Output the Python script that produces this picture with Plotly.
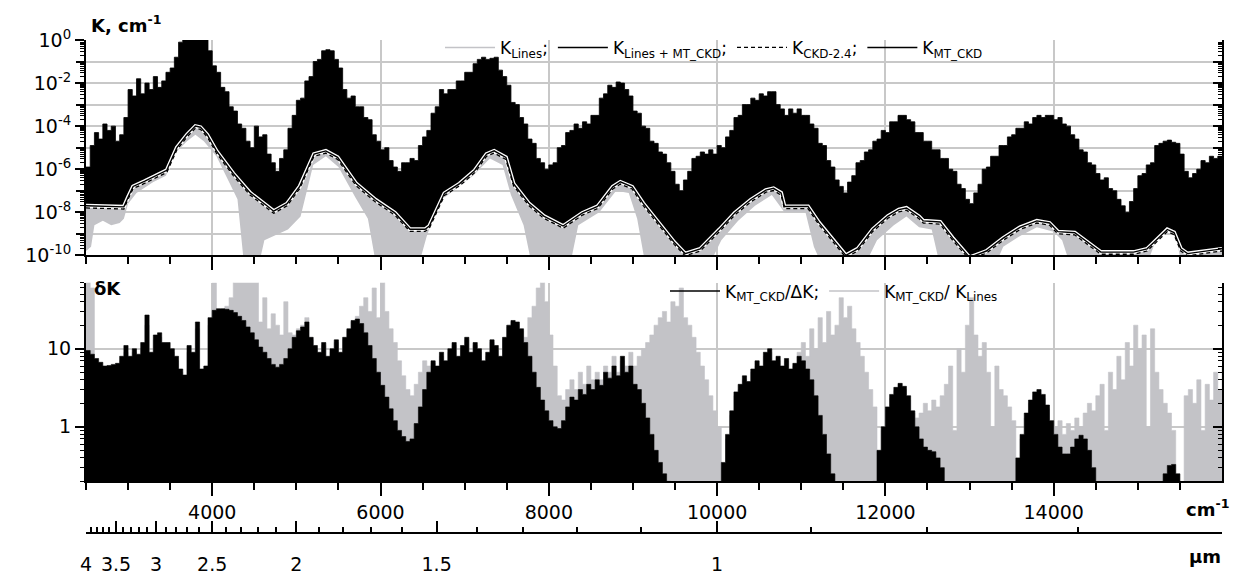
import plotly.graph_objects as go

# ---------------- data ----------------
# sampling grid of the envelopes (cm-1)
NU_START, NU_STEP = 2500, 50

# upper envelope of K_Lines+MT_CKD, log10(K / cm-1), 2500..16000 cm-1 every 50 cm-1
log_k_top = [
    -5.9, -4.9, -4.3, -4.6, -3.9, -4.2, -4.0, -4.7, -4.4, -3.6, -2.3, -2.6, -1.8, -2.5, -2.0, -2.3, -1.7, -2.2, -1.9, -1.5,
    -1.3, -0.8, -0.1, 0.0, 0.0, 0.0, 0.0, 0.0, 0.0, -0.5, -1.2, -1.5, -2.2, -2.4, -3.1, -3.3, -3.9, -4.1, -4.7, -5.0,
    -4.0, -4.5, -4.4, -5.3, -5.7, -6.1, -5.5, -5.1, -4.1, -3.5, -2.8, -2.7, -1.9, -1.7, -1.0, -0.9, -0.5, -0.45, -0.5, -0.9,
    -1.3, -2.3, -2.7, -2.6, -3.1, -3.1, -3.6, -3.7, -4.4, -4.7, -5.1, -5.0, -5.6, -5.9, -6.1, -5.7, -5.7, -5.5, -5.6, -4.9,
    -4.5, -4.2, -3.4, -3.1, -2.3, -2.5, -2.3, -2.3, -1.9, -1.9, -1.5, -1.5, -1.1, -0.9, -0.8, -0.9, -0.85, -0.8, -1.4, -1.7,
    -2.1, -2.9, -3.0, -3.6, -3.9, -4.6, -4.8, -5.5, -5.7, -6.0, -5.8, -5.7, -5.0, -4.9, -4.3, -4.2, -3.9, -4.1, -3.8, -3.9,
    -3.5, -3.5, -2.7, -2.5, -2.1, -2.2, -1.95, -2.0, -2.3, -2.6, -3.3, -3.4, -4.0, -4.1, -4.7, -4.8, -5.2, -5.3, -5.7, -6.1,
    -6.7, -7.0, -6.5, -6.1, -5.5, -5.4, -5.2, -5.3, -5.1, -5.3, -4.9, -5.0, -4.5, -4.2, -3.6, -3.5, -3.0, -3.0, -2.7, -2.8,
    -2.5, -2.6, -2.4, -2.4, -3.0, -3.2, -3.5, -3.2, -3.4, -3.2, -3.5, -3.5, -3.9, -4.1, -4.8, -4.9, -5.6, -5.9, -6.5, -6.8,
    -7.1, -6.6, -6.3, -5.7, -5.6, -5.2, -5.1, -4.7, -4.6, -4.2, -4.3, -3.8, -3.8, -3.5, -3.5, -3.7, -3.8, -4.3, -4.3, -4.7,
    -4.7, -5.1, -5.1, -5.5, -5.5, -6.0, -6.1, -6.7, -6.9, -7.4, -7.6, -7.1, -6.7, -6.0, -5.9, -5.4, -5.4, -4.9, -4.9, -4.5,
    -4.4, -4.1, -4.1, -3.8, -3.9, -3.6, -3.5, -3.6, -3.5, -3.5, -3.7, -3.6, -3.9, -4.0, -4.4, -4.6, -5.1, -5.2, -5.7, -5.8,
    -6.2, -6.5, -6.4, -6.9, -7.0, -7.4, -7.7, -8.0, -7.5, -6.9, -6.3, -6.2, -5.8, -5.7, -4.9, -4.8, -4.7, -4.65, -4.75, -4.8,
    -5.3, -6.1, -6.4, -6.2, -6.0, -5.6, -5.7, -5.4, -5.5, -5.4, -5.4,
]

# continuum knots (cm-1) and log10(K): MT_CKD and CKD-2.4
nu_cont = [
    2500, 2950, 3000, 3060, 3200, 3340, 3460, 3580, 3700, 3800, 3860, 3940, 4050, 4250, 4450, 4650, 4730, 4890, 5040, 5210,
    5350, 5490, 5710, 5940, 6170, 6350, 6530, 6580, 6760, 6940, 7120, 7260, 7350, 7490, 7580, 7760, 7940, 8170, 8400, 8580,
    8760, 8850, 8990, 9120, 9300, 9490, 9620, 9800, 10030, 10210, 10400, 10580, 10670, 10760, 10800, 11080, 11210, 11400, 11530, 11670,
    11850, 12030, 12160, 12250, 12400, 12450, 12650, 12800, 13000, 13200, 13400, 13600, 13800, 13950, 14050, 14250, 14400, 14560, 14950, 15110,
    15190, 15270, 15350, 15430, 15510, 15590, 15710, 15870, 16000,
]
log_k_mtckd = [
    -7.7, -7.75, -7.3, -6.8, -6.55, -6.3, -6.05, -5.0, -4.4, -4.0, -4.05, -4.4, -5.15, -6.2, -7.1, -7.7, -7.95, -7.6, -6.8, -5.3,
    -5.15, -5.45, -6.67, -7.42, -8.03, -8.79, -8.79, -8.64, -7.12, -6.67, -6.06, -5.3, -5.15, -5.45, -6.67, -7.58, -8.18, -8.64, -8.03, -7.73,
    -6.82, -6.59, -6.82, -7.58, -8.48, -9.39, -9.92, -9.7, -8.79, -8.03, -7.42, -6.97, -6.89, -7.1, -7.73, -7.73, -8.48, -9.39, -10.0, -9.7,
    -8.79, -8.18, -7.88, -7.8, -8.2, -8.4, -8.45, -9.2, -10.1, -9.8, -9.2, -8.7, -8.4, -8.5, -8.9, -8.95, -9.4, -9.85, -9.85, -9.7,
    -9.4, -9.1, -8.8, -8.94, -9.7, -9.92, -9.85, -9.77, -9.7,
]
log_k_ckd24 = [
    -7.8, -7.85, -7.4, -6.9, -6.65, -6.4, -6.15, -5.1, -4.5, -4.1, -4.15, -4.5, -5.25, -6.3, -7.2, -7.8, -8.05, -7.7, -6.9, -5.4,
    -5.25, -5.55, -6.77, -7.52, -8.13, -8.89, -8.89, -8.74, -7.22, -6.77, -6.16, -5.4, -5.25, -5.55, -6.77, -7.68, -8.28, -8.74, -8.13, -7.83,
    -6.92, -6.69, -6.92, -7.68, -8.58, -9.49, -10.02, -9.8, -8.89, -8.13, -7.52, -7.07, -6.99, -7.2, -7.83, -7.83, -8.58, -9.49, -10.1, -9.8,
    -8.89, -8.28, -7.98, -7.9, -8.3, -8.5, -8.55, -9.3, -10.2, -9.9, -9.3, -8.8, -8.5, -8.6, -9.0, -9.05, -9.5, -9.95, -9.95, -9.8,
    -9.5, -9.2, -8.9, -9.04, -9.8, -10.02, -9.95, -9.87, -9.8,
]

# lower envelope of K_Lines: knots (cm-1) and log10(K)
nu_lines_min = [
    2500, 2560, 2600, 2700, 2800, 2900, 2950, 3000, 3100, 3300, 3450, 3550, 3700, 3800, 3900, 4050, 4200, 4300, 4380, 4550,
    4620, 4800, 4900, 5050, 5200, 5350, 5500, 5700, 5850, 5950, 6450, 6550, 6700, 6900, 7100, 7300, 7450, 7550, 7700, 7800,
    8250, 8350, 8600, 8800, 8950, 9050, 9150, 9900, 10050, 10250, 10450, 10650, 10800, 11050, 11150, 11250, 11750, 11900, 12100, 12250,
    12400, 12550, 12650, 13300, 13400, 13600, 13800, 14000, 14100, 14200, 15100, 15200, 15350, 15450, 15520, 16000,
]
log_k_lines_min = [
    -9.8, -9.6, -8.6, -8.4, -8.6, -8.5, -8.3, -7.6, -7.1, -6.6, -6.3, -5.3, -4.7, -4.4, -4.7, -5.4, -6.6, -7.4, -10.5, -10.5,
    -9.3, -9.0, -8.8, -8.2, -5.8, -5.4, -5.9, -7.3, -8.3, -10.5, -10.5, -9.1, -7.5, -6.9, -6.3, -5.5, -5.8, -7.2, -8.6, -10.5,
    -10.5, -8.6, -8.0, -7.0, -7.1, -8.3, -10.5, -10.5, -9.3, -8.4, -7.7, -7.2, -8.0, -8.0, -9.6, -10.5, -10.5, -9.3, -8.6, -8.2,
    -8.7, -8.8, -10.5, -10.5, -9.6, -9.1, -8.7, -8.9, -9.3, -10.5, -10.5, -9.45, -8.85, -9.0, -10.5, -10.5,
]

# lower panel, 2500..16000 cm-1 every 50 cm-1
ratio_mtckd_dk = [
    9.5, 8.5, 7.5, 6.7, 6.0, 6.1, 6.3, 6.5, 8.0, 11, 8.0, 10, 8.5, 12, 27, 9, 15, 16, 12, 12,
    10, 8, 5.5, 4.6, 11, 9, 22, 5.5, 6, 25, 31, 32.5, 32.5, 32, 31, 29, 26, 23, 19, 16,
    13, 10.5, 9, 7.5, 6.3, 5.8, 6.3, 7.5, 10, 14, 17, 19, 22, 14, 11, 9, 12, 8, 10, 13,
    9, 14, 18, 23, 24, 21, 16, 11, 7.5, 5, 3.4, 2.4, 1.7, 1.2, 0.9, 0.75, 0.65, 0.7, 1.1, 1.8,
    3, 5, 7, 6, 9, 7, 10, 12, 8, 11, 14, 9, 12, 10, 7, 9, 13, 11, 8, 14,
    20, 23, 22, 18, 12, 8, 5, 3.2, 2.2, 1.6, 1.2, 1.0, 0.95, 1.2, 1.8, 2.4, 2.2, 3.0, 2.6, 3.5,
    3.0, 4.0, 3.4, 5, 4.2, 6, 4.5, 8, 5, 6, 3.5, 3.0, 2.0, 1.3, 0.8, 0.5, 0.35, 0.25, 0.2, 0.1,
    0.1, 0.1, 0.1, 0.1, 0.1, 0.1, 0.1, 0.1, 0.1, 0.1, 0.15, 0.35, 0.8, 1.6, 2.8, 3.5, 4.5, 3.8, 5.5, 7,
    6, 9, 10, 7, 8, 6, 7.5, 5.5, 6.5, 8, 7, 5.5, 4, 2.5, 1.4, 0.8, 0.45, 0.25, 0.15, 0.1,
    0.1, 0.1, 0.1, 0.1, 0.1, 0.1, 0.1, 0.2, 0.5, 1.0, 1.8, 2.6, 3.2, 3.6, 3.3, 2.5, 1.6, 1.0, 0.7, 0.55,
    0.5, 0.48, 0.4, 0.3, 0.18, 0.1, 0.1, 0.1, 0.1, 0.1, 0.1, 0.1, 0.1, 0.1, 0.1, 0.1, 0.1, 0.1, 0.1, 0.1,
    0.18, 0.4, 0.8, 1.5, 2.2, 2.8, 3.0, 2.6, 1.9, 1.2, 0.8, 0.55, 0.45, 0.45, 0.55, 0.7, 0.78, 0.7, 0.5, 0.3,
    0.18, 0.1, 0.1, 0.1, 0.1, 0.1, 0.1, 0.1, 0.1, 0.1, 0.1, 0.1, 0.1, 0.1, 0.1, 0.1, 0.25, 0.32, 0.33, 0.25,
    0.15, 0.1, 0.1, 0.1, 0.1, 0.1, 0.1, 0.1, 0.1, 0.1, 0.1,
]
ratio_mtckd_lines = [
    100, 60, 6.5, 6, 5.5, 5.5, 5.8, 6, 7, 9, 7, 9, 8, 10, 20, 8, 13, 14, 11, 10,
    9, 7, 5, 4.2, 9, 8, 18, 5, 5.5, 20, 70, 30, 31, 35, 45, 100, 100, 100, 100, 100,
    100, 22, 45, 18, 28, 20, 15, 40, 16, 15, 18, 20, 25, 13, 10, 8.5, 11, 7.5, 9, 12,
    8.5, 13, 17, 22, 26, 35, 45, 30, 60, 25, 100, 30, 18, 12, 7, 4.5, 3, 2.5, 3.5, 5,
    7, 6, 6.5, 5.5, 8, 6.5, 9, 11, 7, 10, 13, 8, 11, 9, 6.5, 8, 12, 10, 7, 13,
    19, 22, 21, 17, 14, 25, 35, 60, 100, 40, 15, 6, 2.5, 2.2, 3, 4, 3, 5, 3.5, 6,
    4, 5, 4, 6, 5, 8, 5, 7, 6, 9, 6, 8, 10, 12, 15, 20, 25, 30, 22, 40,
    35, 60, 25, 20, 14, 9, 6, 4, 2.5, 1.6, 1.0, 0.3, 0.7, 1.4, 2.5, 3, 4, 3.3, 5, 6,
    5.5, 8, 9, 6.5, 7, 5.5, 7, 5, 6, 9, 12, 8, 18, 10, 25, 12, 30, 15, 20, 45,
    25, 35, 18, 12, 8, 5, 3, 1.8, 0.45, 0.9, 1.6, 2.3, 2.9, 3.2, 3.0, 2.2, 1.5, 1.3, 1.5, 2,
    1.6, 2.2, 1.8, 2.5, 3.5, 6, 0.9, 10, 5, 20, 45, 15, 8, 12, 5, 1.0, 6, 3, 2.5, 1.8,
    1.2, 0.35, 0.7, 1.3, 2, 2.5, 2.7, 2.3, 1.7, 1.1, 1.0, 1.2, 0.8, 1.1, 0.9, 1.3, 1.0, 1.5, 2.0, 1.6,
    2.5, 3.5, 0.9, 5, 3, 8, 4, 12, 6, 20, 10, 15, 1.0, 18, 5, 3, 2, 1.5, 0.9, 0.15,
    0.15, 2.5, 3, 2, 4, 0.9, 3.5, 2.2, 5, 3, 6,
]

# axis ticks
wn_major = [4000, 6000, 8000, 10000, 12000, 14000]
wn_minor = [2500, 3000, 3500, 4500, 5000, 5500, 6500, 7000, 7500, 8500, 9000, 9500,
            10500, 11000, 11500, 12500, 13000, 13500, 14500, 15000, 15500]
um_major = [4, 3.5, 3, 2.5, 2, 1.5, 1]
um_labels = ["4", "3.5", "3", "2.5", "2", "1.5", "1"]
um_minor = [3.9, 3.8, 3.7, 3.6, 3.4, 3.3, 3.2, 3.1, 2.9, 2.8, 2.7, 2.6, 2.4, 2.3, 2.2, 2.1,
            1.9, 1.8, 1.7, 1.6, 1.4, 1.3, 1.2, 1.1, 0.9, 0.8, 0.7]

# ---------------- figure ----------------
W, H = 1234, 587
ML, MR, MT, MB = 86, 12, 40, 30
PW, PH = W - ML - MR, H - MT - MB
FONT = "DejaVu Sans"
GREY = "#c3c3c7"
GRID = "#c8c8c8"


def py2paper(py):
    return (H - MB - py) / PH


def px2paper(px):
    return (px - ML) / PW


nu = [NU_START + NU_STEP * i for i in range(len(log_k_top))]
k_top = [10 ** v for v in log_k_top]
k_mtckd = [10 ** v for v in log_k_mtckd]
k_ckd24 = [10 ** v for v in log_k_ckd24]
k_lines_min = [10 ** v for v in log_k_lines_min]

fig = go.Figure()
nolead = dict(showlegend=False, hoverinfo="skip")

# --- top panel: absorption coefficient ---
fig.add_trace(go.Scatter(x=nu_lines_min, y=k_lines_min, mode="lines", line=dict(width=0),
                         xaxis="x", yaxis="y", **nolead))
fig.add_trace(go.Scatter(x=nu_cont, y=k_mtckd, mode="lines", line=dict(width=0),
                         fill="tonexty", fillcolor=GREY, xaxis="x", yaxis="y", **nolead))
fig.add_trace(go.Scatter(x=nu_cont, y=k_mtckd, mode="lines", line=dict(width=0),
                         xaxis="x", yaxis="y", **nolead))
fig.add_trace(go.Scatter(x=nu, y=k_top, mode="lines", line=dict(width=0.8, color="black", shape="hv"),
                         fill="tonexty", fillcolor="black", xaxis="x", yaxis="y", **nolead))
fig.add_trace(go.Scatter(x=nu_cont, y=k_mtckd, mode="lines", line=dict(width=4, color="white"),
                         xaxis="x", yaxis="y", **nolead))
fig.add_trace(go.Scatter(x=nu_cont, y=k_ckd24, mode="lines",
                         line=dict(width=1.3, color="black", dash="4px,3px"),
                         xaxis="x", yaxis="y", **nolead))
fig.add_trace(go.Scatter(x=nu_cont, y=k_mtckd, mode="lines", line=dict(width=1.4, color="black"),
                         xaxis="x", yaxis="y", **nolead))

# legend entries of the top panel
top_entries = [
    ("K<sub>Lines</sub>;", dict(color=GREY, width=1.5)),
    ("K<sub>Lines + MT_CKD</sub>;", dict(color="black", width=1.5)),
    ("K<sub>CKD-2.4</sub>;", dict(color="black", width=1.3, dash="4px,3px")),
    ("K<sub>MT_CKD</sub>", dict(color="black", width=1.5)),
]
for name, ln in top_entries:
    fig.add_trace(go.Scatter(x=[None], y=[None], mode="lines", name=name, line=ln,
                             xaxis="x", yaxis="y", legend="legend"))

# --- bottom panel: ratios ---
base = [0.01 for _ in nu]
fig.add_trace(go.Scatter(x=nu, y=base, mode="lines", line=dict(width=0), xaxis="x2", yaxis="y2", **nolead))
fig.add_trace(go.Scatter(x=nu, y=ratio_mtckd_lines, mode="lines",
                         line=dict(width=0.6, color=GREY, shape="hv"),
                         fill="tonexty", fillcolor=GREY, xaxis="x2", yaxis="y2", **nolead))
fig.add_trace(go.Scatter(x=nu, y=base, mode="lines", line=dict(width=0), xaxis="x2", yaxis="y2", **nolead))
fig.add_trace(go.Scatter(x=nu, y=ratio_mtckd_dk, mode="lines",
                         line=dict(width=0.6, color="black", shape="hv"),
                         fill="tonexty", fillcolor="black", xaxis="x2", yaxis="y2", **nolead))

bottom_entries = [
    ("K<sub>MT_CKD</sub>/ΔK;", dict(color="black", width=1.5)),
    ("K<sub>MT_CKD</sub>/ K<sub>Lines</sub>", dict(color=GREY, width=1.5)),
]
for name, ln in bottom_entries:
    fig.add_trace(go.Scatter(x=[None], y=[None], mode="lines", name=name, line=ln,
                             xaxis="x2", yaxis="y2", legend="legend2"))

# carriers for the extra tick axes (mirrored right axes, odd decades, micrometre scale)
for xa, ya in [("x", "y3"), ("x2", "y4"), ("x", "y5"), ("x3", "y2"), ("x4", "y2")]:
    fig.add_trace(go.Scatter(x=[None], y=[None], xaxis=xa, yaxis=ya, **nolead))

# ---------------- axes ----------------
top_dom = [py2paper(260), 1.0]
bot_dom = [py2paper(491), py2paper(288)]

even_dec = [10 ** k for k in range(-10, 1, 2)]
even_text = ["10<sup>%d</sup>" % k for k in range(-10, 1, 2)]
odd_dec = [10 ** k for k in range(-9, 0, 2)]
all_dec = [10 ** k for k in range(-10, 1)]
dec_minor = [m * 10 ** k for k in range(-10, 0) for m in range(2, 10)]
r_vals = [1, 10]
r_minor = [0.2, 0.3, 0.4, 0.5, 0.6, 0.7, 0.8, 0.9, 2, 3, 4, 5, 6, 7, 8, 9, 20, 30, 40, 50, 60, 70]

axis_line = dict(showline=True, linecolor="black", linewidth=2, zeroline=False)
tickfont = dict(family=FONT, size=19, color="black")
tk = dict(tickwidth=1.5, tickcolor="black")

xcommon = dict(range=[2500, 16000], tickmode="array", tickvals=wn_major, ticks="outside",
               ticklen=13, showgrid=True, gridcolor=GRID, gridwidth=1.5,
               minor=dict(tickmode="array", tickvals=wn_minor, ticks="outside", ticklen=7,
                          showgrid=False, **tk),
               **tk, **axis_line)
ylog_top = dict(type="log", range=[-10, 0])
ylog_bot = dict(type="log", range=[-0.69897, 1.8451])

fig.update_layout(
    width=W, height=H,
    margin=dict(l=ML, r=MR, t=MT, b=MB),
    paper_bgcolor="white", plot_bgcolor="white",
    font=dict(family=FONT, size=17, color="black"),
    xaxis=dict(domain=[0, 1], anchor="y", showticklabels=False, **xcommon),
    yaxis=dict(domain=top_dom, anchor="x", tickmode="array", tickvals=even_dec, ticktext=even_text,
               ticks="outside", ticklen=9, tickfont=tickfont, showgrid=True, gridcolor=GRID,
               gridwidth=1.5,
               minor=dict(tickmode="array", tickvals=dec_minor, ticks="outside", ticklen=4,
                          tickwidth=1, tickcolor="black"),
               **ylog_top, **tk, **axis_line),
    yaxis5=dict(overlaying="y", anchor="x", side="left", tickmode="array", tickvals=odd_dec,
                ticks="outside", ticklen=9, showticklabels=False, showgrid=True, gridcolor=GRID,
                gridwidth=1.5, showline=False, zeroline=False, **ylog_top, **tk),
    yaxis3=dict(overlaying="y", anchor="x", side="right", tickmode="array", tickvals=all_dec,
                ticks="inside", ticklen=9, showticklabels=False, showgrid=False,
                minor=dict(tickmode="array", tickvals=dec_minor, ticks="inside", ticklen=4,
                           tickwidth=1, tickcolor="black"),
                **ylog_top, **tk, **axis_line),
    xaxis2=dict(domain=[0, 1], anchor="y2", tickfont=tickfont,
                ticktext=[str(v) for v in wn_major], **xcommon),
    yaxis2=dict(domain=bot_dom, anchor="x2", tickmode="array", tickvals=r_vals, ticktext=["1", "10"],
                ticks="outside", ticklen=9, tickfont=tickfont, showgrid=True, gridcolor=GRID,
                gridwidth=1.5,
                minor=dict(tickmode="array", tickvals=r_minor, ticks="outside", ticklen=4,
                           tickwidth=1, tickcolor="black"),
                **ylog_bot, **tk, **axis_line),
    yaxis4=dict(overlaying="y2", anchor="x2", side="right", tickmode="array", tickvals=r_vals,
                ticks="inside", ticklen=9, showticklabels=False, showgrid=False,
                minor=dict(tickmode="array", tickvals=r_minor, ticks="inside", ticklen=4,
                           tickwidth=1, tickcolor="black"),
                **ylog_bot, **tk, **axis_line),
    # micrometre scale under the wavenumber axis
    xaxis3=dict(overlaying="x2", anchor="free", position=py2paper(544), side="bottom",
                range=[2500, 16000], tickmode="array", tickvals=[1e4 / v for v in um_major],
                ticktext=um_labels, ticks="inside", ticklen=11, tickwidth=2, tickcolor="black",
                tickfont=tickfont, ticklabelstandoff=14, showgrid=False, **axis_line),
    xaxis4=dict(overlaying="x2", anchor="free", position=py2paper(544), side="bottom",
                range=[2500, 16000], tickmode="array", tickvals=[1e4 / v for v in um_minor],
                ticks="inside", ticklen=6, tickwidth=2, tickcolor="black", showticklabels=False,
                showgrid=False, showline=False, zeroline=False),
    legend=dict(orientation="h", traceorder="normal", x=px2paper(440), y=py2paper(48),
                xanchor="left", yanchor="middle", bgcolor="rgba(0,0,0,0)",
                font=dict(family=FONT, size=17), itemwidth=50),
    legend2=dict(orientation="h", traceorder="normal", x=px2paper(665), y=py2paper(297),
                 xanchor="left", yanchor="middle", bgcolor="rgba(0,0,0,0)",
                 font=dict(family=FONT, size=17), itemwidth=50),
    showlegend=True,
)

ann = dict(xref="paper", yref="paper", showarrow=False, font=dict(family=FONT, size=18, color="black"))
fig.add_annotation(text="<b>K, cm<sup>-1</sup></b>", x=px2paper(89), y=py2paper(24),
                   xanchor="left", yanchor="middle", **ann)
fig.add_annotation(text="<b>δK</b>", x=px2paper(92), y=py2paper(294),
                   xanchor="left", yanchor="middle", **ann)
fig.add_annotation(text="<b>cm<sup>-1</sup></b>", x=px2paper(1184), y=py2paper(518),
                   xanchor="left", yanchor="middle", **ann)
fig.add_annotation(text="<b>µm</b>", x=px2paper(1187), y=py2paper(568),
                   xanchor="left", yanchor="middle", **ann)

fig.write_html("out.html")
